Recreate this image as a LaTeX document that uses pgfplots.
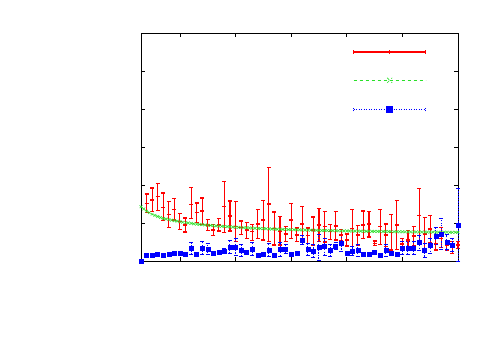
\documentclass[border=0pt]{standalone}
\usepackage{pgfplots}
\usepackage{pgfplotstable}
\pgfplotsset{compat=1.18}
\definecolor{gpred}{rgb}{1,0,0}
\definecolor{gpgreen}{rgb}{0.16,0.88,0.16}
\definecolor{gpblue}{rgb}{0,0,1}

% x  y  ep  em
\pgfplotstableread{
x y ep em
4 1.518 0.246 0.246
5 1.605 0.316 0.307
6 1.693 0.342 0.360
7 1.412 0.377 0.351
8 1.228 0.333 0.342
9 1.360 0.281 0.281
10 1.035 0.219 0.211
11 0.947 0.184 0.184
12 1.491 0.439 0.368
13 1.272 0.254 0.254
14 1.316 0.342 0.351
15 0.947 0.149 0.140
16 0.816 0.149 0.140
17 0.947 0.167 0.158
18 1.430 0.667 0.675
19 1.184 0.395 0.395
20 0.904 0.667 0.400
21 0.877 0.175 0.175
22 0.816 0.202 0.219
23 0.772 0.193 0.237
24 0.974 0.386 0.377
25 1.079 0.518 0.526
26 1.500 0.956 0.990
27 0.860 0.430 0.439
28 0.772 0.395 0.351
29 0.711 0.193 0.202
30 1.079 0.430 0.482
31 0.684 0.184 0.175
32 0.974 0.456 0.465
33 0.667 0.202 0.202
34 0.816 0.342 0.395
35 0.947 0.430 0.439
36 0.904 0.404 0.404
37 0.772 0.184 0.211
38 0.921 0.377 0.368
39 0.684 0.140 0.149
40 0.553 0.158 0.158
41 0.860 0.500 0.482
42 0.684 0.246 0.263
43 0.947 0.368 0.351
44 0.974 0.333 0.342
45 0.465 0.061 0.061
46 0.904 0.456 0.465
47 0.684 0.289 0.298
48 0.746 0.474 0.456
49 0.947 0.649 0.640
50 0.447 0.140 0.140
51 0.553 0.246 0.237
52 0.658 0.254 0.254
53 1.193 0.711 0.702
54 0.711 0.430 0.439
55 0.842 0.360 0.351
56 0.465 0.237 0.175
57 0.596 0.281 0.237
58 0.404 0.123 0.132
59 0.377 0.132 0.175
60 0.421 0.088 0.088
}\redtab

\pgfplotstableread{
x y
3 1.43
3.5 1.37
4 1.31
4.5 1.27
5 1.23
5.5 1.20
6 1.17
6.5 1.145
7 1.12
7.5 1.105
8 1.09
8.5 1.075
9 1.06
9.5 1.048
10 1.035
10.5 1.022
11 1.01
11.5 1.0
12 0.99
12.5 0.98
13 0.972
13.5 0.964
14 0.957
14.5 0.95
15 0.943
15.5 0.937
16 0.931
16.5 0.925
17 0.92
17.5 0.914
18 0.909
18.5 0.904
19 0.899
19.5 0.894
20 0.89
20.5 0.885
21 0.881
21.5 0.877
22 0.873
22.5 0.869
23 0.865
23.5 0.862
24 0.858
24.5 0.855
25 0.852
25.5 0.849
26 0.846
26.5 0.843
27 0.84
27.5 0.837
28 0.835
28.5 0.832
29 0.83
29.5 0.828
30 0.826
30.5 0.824
31 0.822
31.5 0.82
32 0.818
32.5 0.816
33 0.814
33.5 0.812
34 0.81
34.5 0.808
35 0.806
35.5 0.804
36 0.803
36.5 0.801
37 0.8
37.5 0.798
38 0.797
38.5 0.795
39 0.794
39.5 0.792
40 0.791
40.5 0.79
41 0.788
41.5 0.787
42 0.786
42.5 0.785
43 0.784
43.5 0.782
44 0.781
44.5 0.78
45 0.779
45.5 0.778
46 0.777
46.5 0.776
47 0.775
47.5 0.774
48 0.773
48.5 0.772
49 0.771
49.5 0.77
50 0.769
50.5 0.768
51 0.767
51.5 0.766
52 0.766
52.5 0.765
53 0.764
53.5 0.763
54 0.762
54.5 0.762
55 0.761
55.5 0.76
56 0.759
56.5 0.759
57 0.758
57.5 0.757
58 0.757
58.5 0.756
59 0.755
59.5 0.755
60 0.754
}\greentab

\pgfplotstableread{
x y ep em
3 0 0 0
4 0.158 0 0
5 0.158 0 0
6 0.167 0 0
7 0.158 0 0
8 0.167 0 0
9 0.202 0.02 0.02
10 0.193 0 0
11 0.184 0 0
12 0.333 0.15 0.15
13 0.184 0 0
14 0.333 0.17 0.17
15 0.316 0.15 0.15
16 0.202 0 0
17 0.230 0.03 0.03
18 0.270 0.05 0.05
19 0.360 0.17 0.17
20 0.360 0.22 0.22
21 0.280 0.15 0.15
22 0.230 0.03 0.03
23 0.307 0.17 0.17
24 0.158 0 0
25 0.170 0 0
26 0.280 0.17 0.17
27 0.158 0 0
28 0.300 0.18 0.18
29 0.316 0.13 0.13
30 0.170 0 0
31 0.202 0.02 0.02
32 0.553 0.13 0.13
33 0.307 0.15 0.15
34 0.263 0.17 0.17
35 0.360 0.35 0.35
36 0.377 0.22 0.22
37 0.281 0.15 0.15
38 0.395 0.10 0.10
39 0.465 0.22 0.22
40 0.193 0 0
41 0.263 0.11 0.11
42 0.272 0.15 0.15
43 0.175 0 0
44 0.175 0 0
45 0.219 0.02 0.02
46 0.158 0 0
47 0.272 0.15 0.15
48 0.193 0 0
49 0.175 0 0
50 0.333 0.17 0.17
51 0.333 0.17 0.17
52 0.333 0.17 0.17
53 0.482 0.20 0.20
54 0.281 0.18 0.18
55 0.404 0.20 0.20
56 0.649 0.22 0.22
57 0.711 0.42 0.42
58 0.491 0.20 0.20
59 0.421 0.18 0.18
60 0.947 0.96 0.95
}\bluetab

\begin{document}
\begin{tikzpicture}[x=1pt,y=1pt]
\path (0,0) rectangle (500,350);
\begin{axis}[
  at={(141pt,89pt)}, anchor=south west,
  width=317pt, height=228pt, scale only axis,
  xmin=3, xmax=60, ymin=0, ymax=6,
  xtick={10,20,30,40,50,60}, ytick={0,1,2,3,4,5,6},
  xticklabels={}, yticklabels={},
  tick align=inside, tick pos=both, major tick length=4pt,
  axis line style={line width=0.7pt, black},
  tick style={line width=0.7pt, black},
  clip=false,
  legend style={at={(0.669,0.928)}, anchor=north west, draw=none, fill=none,
    inner sep=0pt, outer sep=0pt, row sep=23pt,
    nodes={inner sep=0pt, outer sep=0pt, text height=0pt, text depth=0pt}},
  legend cell align=left]

\addplot[only marks, mark=+, mark size=2pt, draw=gpred, color=gpred, line width=1.1pt,
  legend image code/.code={
    \draw[draw=gpred, line width=1.1pt] (0pt,0pt) -- (72pt,0pt)
      (0pt,-2pt) -- (0pt,2pt) (72pt,-2pt) -- (72pt,2pt)
      (36pt,-2pt) -- (36pt,2pt);},
  error bars/.cd, y dir=both, y explicit,
  error bar style={draw=gpred, line width=1.1pt},
  error mark options={rotate=90, draw=gpred, mark size=2pt, line width=1.1pt}]
  table[x=x, y=y, y error plus=ep, y error minus=em] {\redtab};
\addlegendentry{}

\addplot[color=gpgreen, dashed, line width=0.5pt, mark=x, mark size=2pt,
  mark options={solid},
  legend image code/.code={
    \draw[draw=gpgreen, dashed, line width=0.6pt] (0pt,0pt) -- (72pt,0pt);
    \draw[draw=gpgreen, line width=0.7pt] (33.5pt,-2.5pt) -- (38.5pt,2.5pt)
      (33.5pt,2.5pt) -- (38.5pt,-2.5pt);}]
  table[x=x, y=y] {\greentab};
\addlegendentry{}

\addplot[only marks, mark=square*, mark size=2pt, color=gpblue,
  legend image code/.code={
    \draw[draw=gpblue, dash pattern=on 1.2pt off 1.3pt, line width=1.1pt] (0pt,0pt) -- (72pt,0pt)
      (0pt,-2pt) -- (0pt,2pt) (72pt,-2pt) -- (72pt,2pt);
    \fill[fill=gpblue] (33pt,-3pt) rectangle (39pt,3pt);},
  error bars/.cd, y dir=both, y explicit,
  error bar style={draw=gpblue, dash pattern=on 1.2pt off 1.3pt, line width=1pt},
  error mark options={rotate=90, draw=gpblue, mark size=2pt, line width=1pt}]
  table[x=x, y=y, y error plus=ep, y error minus=em] {\bluetab};
\addlegendentry{}

\end{axis}
\end{tikzpicture}
\end{document}
